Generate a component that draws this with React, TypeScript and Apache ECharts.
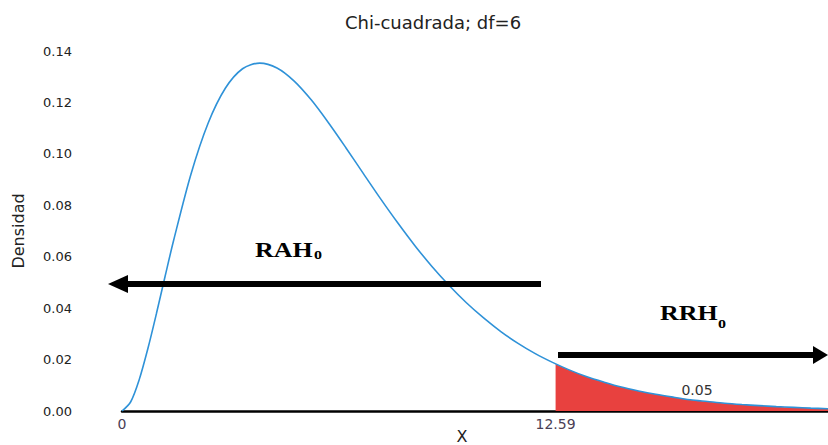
import React, { useEffect, useRef } from "react";
import * as echarts from "echarts";

// Chi-square density, df = 6
const xValues = [
  0, 0.25, 0.5, 0.75, 1, 1.25, 1.5, 2, 2.5, 3, 3.5, 4, 4.5, 5, 5.5, 6, 6.5, 7, 7.5, 8,
  8.5, 9, 9.5, 10, 10.5, 11, 11.5, 12, 12.5, 13, 13.5, 14, 14.5, 15, 15.5, 16, 16.5,
  17, 17.5, 18, 18.5, 19, 19.5, 20, 20.5,
];
const densities = [
  0, 0.0035, 0.0122, 0.0242, 0.0379, 0.0523, 0.0664, 0.092, 0.1119, 0.1255, 0.1331,
  0.1353, 0.1334, 0.1283, 0.1209, 0.112, 0.1024, 0.0925, 0.0827, 0.0733, 0.0644,
  0.0562, 0.0488, 0.0421, 0.0362, 0.0309, 0.0263, 0.0223, 0.0189, 0.0159, 0.0133,
  0.0112, 0.0093, 0.0078, 0.0065, 0.0054, 0.0044, 0.0037, 0.003, 0.0025, 0.0021,
  0.0017, 0.0014, 0.0011, 0.0009,
];
const criticalValue = 12.59;
const criticalDensity = 0.0183;
const tailProbability = "0.05";
const xTickLabels = [0, criticalValue];

const chartTitle = "Chi-cuadrada; df=6";
const xName = "X";
const yName = "Densidad";
const acceptLabel = "RAH";
const rejectLabel = "RRH";
const subscript = "o";

const curve = xValues.map((x, i) => [x, densities[i]]);
const tail = [[criticalValue, criticalDensity]].concat(
  curve.filter((p) => p[0] > criticalValue)
);

const sans = '"DejaVu Sans", "Noto Sans", sans-serif';
const serif = '"Liberation Serif", "DejaVu Serif", serif';

const regionLabel = (text: string, x: number, y: number) => ({
  type: "text",
  x,
  y,
  scaleX: 1.18,
  z: 10,
  style: {
    text,
    x: 0,
    y: 0,
    textVerticalAlign: "middle",
    font: `bold 22px ${serif}`,
    fill: "#000",
  },
});

const subLabel = (x: number, y: number) => ({
  type: "text",
  x,
  y,
  z: 10,
  style: {
    text: subscript,
    x: 0,
    y: 0,
    textVerticalAlign: "middle",
    font: `bold 16px ${serif}`,
    fill: "#000",
  },
});

export default function App() {
  const ref = useRef<HTMLDivElement>(null);

  useEffect(() => {
    if (!ref.current) return;
    const chart = echarts.init(ref.current, null, { renderer: "svg" });
    chart.setOption({
      animation: false,
      backgroundColor: "#ffffff",
      grid: {
        left: 122,
        right: 0,
        top: 51,
        bottom: 34,
        containLabel: false,
        outerBoundsMode: "none",
      },
      xAxis: {
        type: "value",
        min: 0,
        max: 20.5,
        axisLine: { show: true, onZero: false, lineStyle: { color: "#000", width: 2.5 } },
        axisTick: { show: false },
        splitLine: { show: false },
        axisLabel: {
          customValues: xTickLabels,
          color: "#4a4055",
          fontSize: 14,
          fontFamily: sans,
          margin: 6,
          formatter: (v: number) => (v === 0 ? "0" : v.toFixed(2)),
        },
      },
      yAxis: {
        type: "value",
        min: 0,
        max: 0.14,
        interval: 0.02,
        name: yName,
        nameLocation: "middle",
        nameGap: 96,
        nameRotate: 90,
        nameTextStyle: { color: "#222", fontSize: 16, fontFamily: sans },
        axisLine: { show: false },
        axisTick: { show: false },
        splitLine: { show: false },
        axisLabel: {
          color: "#222",
          fontSize: 13,
          fontFamily: sans,
          margin: 50,
          formatter: (v: number) => v.toFixed(2),
        },
      },
      series: [
        {
          type: "line",
          data: tail,
          smooth: 0.3,
          symbol: "none",
          lineStyle: { width: 0 },
          areaStyle: { color: "#e8413f", opacity: 1 },
          z: 2,
        },
        {
          type: "line",
          data: curve,
          smooth: 0.3,
          symbol: "none",
          lineStyle: { color: "#2f92d8", width: 1.6 },
          z: 3,
        },
      ],
      graphic: [
        {
          type: "text",
          x: 433,
          y: 22,
          style: {
            text: chartTitle,
            x: 0,
            y: 0,
            textAlign: "center",
            textVerticalAlign: "middle",
            font: `18px ${sans}`,
            fill: "#222",
          },
        },
        {
          type: "text",
          x: 462,
          y: 436,
          style: {
            text: xName,
            x: 0,
            y: 0,
            textAlign: "center",
            textVerticalAlign: "middle",
            font: `16px ${sans}`,
            fill: "#222",
          },
        },
        {
          type: "text",
          x: 697,
          y: 390,
          z: 10,
          style: {
            text: tailProbability,
            x: 0,
            y: 0,
            textAlign: "center",
            textVerticalAlign: "middle",
            font: `14px ${sans}`,
            fill: "#333",
          },
        },
        // accept region arrow
        { type: "rect", shape: { x: 124, y: 281, width: 417, height: 6 }, style: { fill: "#000" }, z: 10 },
        {
          type: "polygon",
          shape: { points: [[108, 284], [128, 275], [128, 293]] },
          style: { fill: "#000" },
          z: 10,
        },
        // reject region arrow
        { type: "rect", shape: { x: 558, y: 352, width: 258, height: 6 }, style: { fill: "#000" }, z: 10 },
        {
          type: "polygon",
          shape: { points: [[828, 355], [813, 346], [813, 364]] },
          style: { fill: "#000" },
          z: 10,
        },
        regionLabel(acceptLabel, 255, 250),
        subLabel(314, 253),
        regionLabel(rejectLabel, 660, 313),
        subLabel(718, 322),
      ],
    });
    return () => chart.dispose();
  }, []);

  return <div ref={ref} style={{ width: 828, height: 445, position: "absolute", left: 0, top: 0 }} />;
}
